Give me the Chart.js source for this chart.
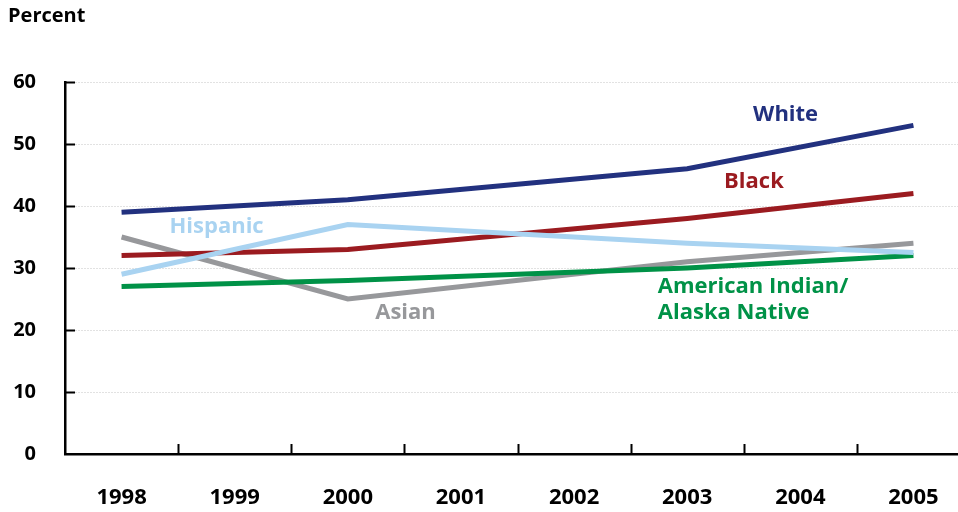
<!DOCTYPE html>
<html>
<head>
<meta charset="utf-8">
<script src="https://cdn.jsdelivr.net/npm/chart.js@4.4.0/dist/chart.umd.min.js"></script>
<style>
  html, body { margin: 0; padding: 0; background: #fff; overflow: hidden; }
  #wrap { width: 970px; height: 512px; }
</style>
</head>
<body>
<div id="wrap"><canvas id="chart" width="970" height="512"></canvas></div>
<script>
// Chart data
const years = ['1998', '1999', '2000', '2001', '2002', '2003', '2004', '2005'];
const white = [39, null, 41, null, null, 46, null, 53];
const black = [32, null, 33, null, null, 38, null, 42];
const hispanic = [29, null, 37, null, null, 34, null, 32.5];
const asian = [35, null, 25, null, null, 31, null, 34];
const amIndian = [27, null, 28, null, null, 30, null, 32];
const yTicks = [0, 10, 20, 30, 40, 50, 60];

// Series labels placed in data units (category index, percent)
const seriesLabels = [
    { text: ['White'], x: 5.87, y: 54.7, color: '#22317f', align: 'center' },
    { text: ['Black'], x: 5.59, y: 43.9, color: '#9b1b20', align: 'center' },
    { text: ['Hispanic'], x: 0.84, y: 36.6, color: '#a9d3f1', align: 'center' },
    { text: ['Asian'], x: 2.51, y: 22.8, color: '#97989b', align: 'center' },
    { text: ['American Indian/', 'Alaska Native'], x: 4.74, y: 26.9, color: '#009247', align: 'left' }
];

const FONT = "'Open Sans', 'DejaVu Sans', sans-serif";

// Short tick marks drawn inside the plot area + series labels
const decorPlugin = {
    id: 'decor',
    beforeDatasetsDraw(chart) {
        const ctx = chart.ctx;
        const xs = chart.scales.x;
        const ys = chart.scales.y;
        const area = chart.chartArea;
        ctx.save();
        ctx.strokeStyle = '#000';
        ctx.lineWidth = 2;
        ctx.beginPath();
        yTicks.forEach(v => {
            if (v === 0) return;
            const py = Math.round(ys.getPixelForValue(v)) + 0.5;
            ctx.moveTo(area.left, py);
            ctx.lineTo(area.left + 10, py);
        });
        for (let i = 1; i < years.length; i++) {
            const px = Math.round((xs.getPixelForValue(i - 1) + xs.getPixelForValue(i)) / 2) + 0.5;
            ctx.moveTo(px, area.bottom);
            ctx.lineTo(px, area.bottom - 10);
        }
        ctx.stroke();
        ctx.restore();
    },
    afterDatasetsDraw(chart) {
        const ctx = chart.ctx;
        const xs = chart.scales.x;
        const ys = chart.scales.y;
        ctx.save();
        ctx.font = 'bold 22px ' + FONT;
        ctx.textBaseline = 'middle';
        seriesLabels.forEach(lbl => {
            const i0 = Math.floor(lbl.x);
            const px = xs.getPixelForValue(i0) + (lbl.x - i0) * (xs.getPixelForValue(1) - xs.getPixelForValue(0));
            const py = ys.getPixelForValue(lbl.y);
            ctx.fillStyle = lbl.color;
            ctx.textAlign = lbl.align;
            lbl.text.forEach((line, k) => {
                ctx.fillText(line, px, py + k * 26);
            });
        });
        ctx.restore();
    }
};

function makeSet(label, data, color) {
    return {
        label: label,
        data: data,
        borderColor: color,
        backgroundColor: color,
        borderWidth: 5,
        pointRadius: 0,
        tension: 0,
        spanGaps: true,
        fill: false
    };
}

const ctx = document.getElementById('chart').getContext('2d');
const chart = new Chart(ctx, {
    type: 'line',
    data: {
        labels: years,
        datasets: [
            makeSet('Hispanic', hispanic, '#a9d3f1'),
            makeSet('American Indian/Alaska Native', amIndian, '#009247'),
            makeSet('White', white, '#22317f'),
            makeSet('Black', black, '#9b1b20'),
            makeSet('Asian', asian, '#97989b')
        ]
    },
    options: {
        responsive: false,
        animation: false,
        layout: {
            padding: { left: 8, right: 0, top: 0, bottom: 0 }
        },
        plugins: {
            legend: { display: false },
            tooltip: { enabled: false },
            title: {
                display: true,
                text: 'Percent',
                align: 'start',
                color: '#000',
                font: { family: FONT, size: 20, weight: 'bold' },
                padding: { top: 4, bottom: 54 }
            }
        },
        scales: {
            x: {
                type: 'category',
                offset: true,
                grid: {
                    display: true,
                    offset: true,
                    color: 'rgba(0,0,0,0)',
                    drawTicks: false
                },
                border: { display: true, color: '#000', width: 2.5 },
                ticks: {
                    color: '#000',
                    padding: 31,
                    maxRotation: 0,
                    font: { family: FONT, size: 22, weight: 'bold' }
                },
                afterFit(scale) { scale.height = 58; }
            },
            y: {
                min: 0,
                max: 60,
                afterBuildTicks(scale) {
                    scale.ticks = yTicks.map(v => ({ value: v }));
                },
                grid: {
                    color: '#c4c4c4',
                    lineWidth: 1,
                    drawTicks: false
                },
                border: { display: true, color: '#000', width: 2.5, dash: [1, 2] },
                ticks: {
                    color: '#000',
                    padding: 29,
                    font: { family: FONT, size: 20, weight: 'bold' }
                },
                afterFit(scale) { scale.width = 57; }
            }
        }
    },
    plugins: [decorPlugin]
});
</script>
</body>
</html>
